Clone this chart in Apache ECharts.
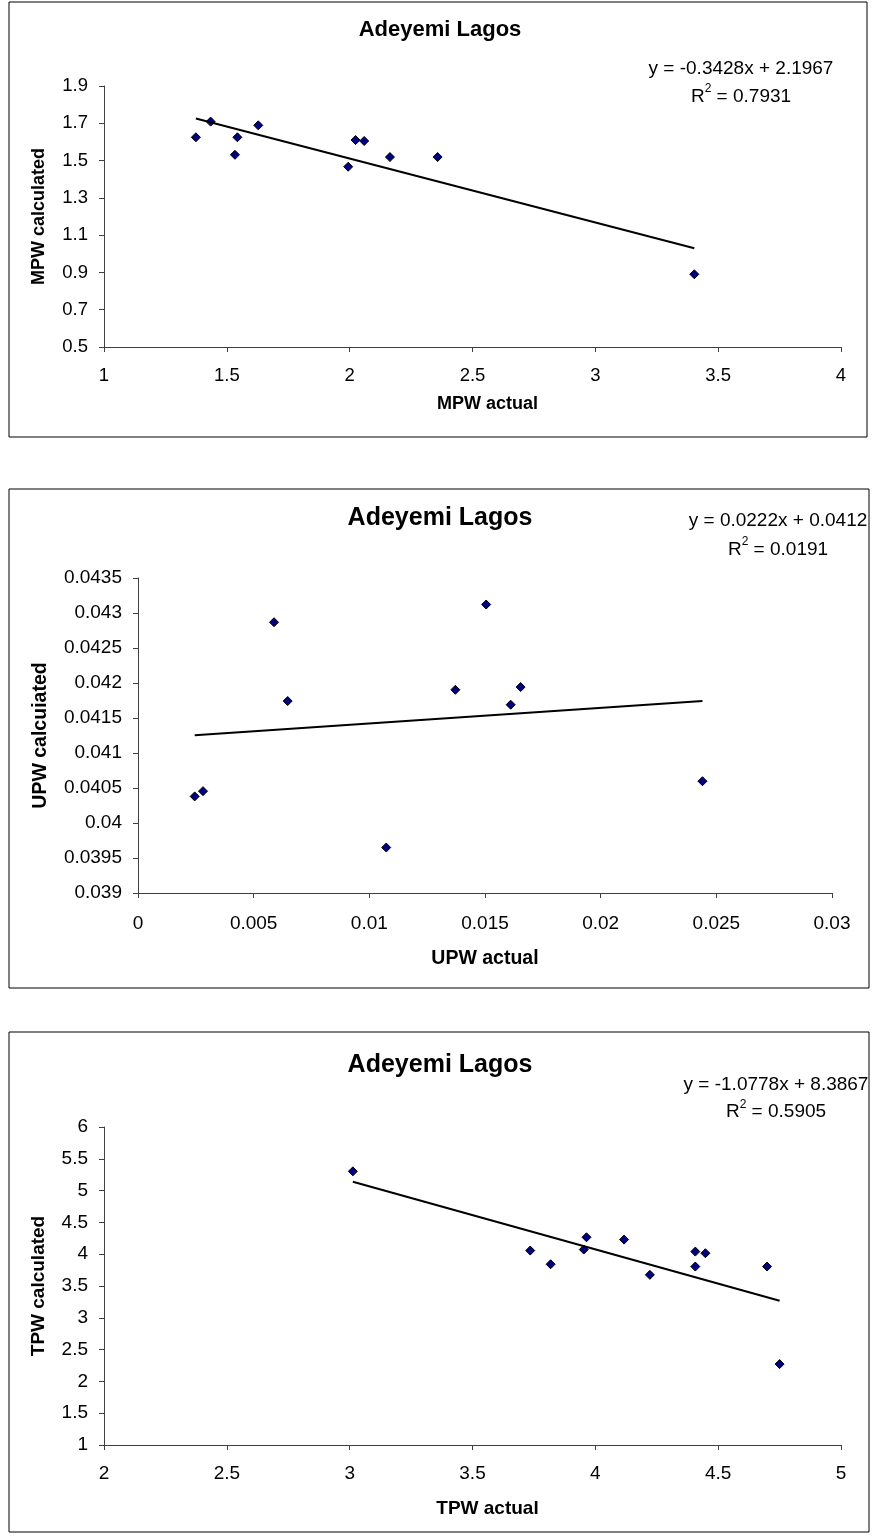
<!DOCTYPE html>
<html>
<head>
<meta charset="utf-8">
<title>Adeyemi Lagos</title>
<script src="https://cdn.jsdelivr.net/npm/echarts@6/dist/echarts.min.js"></script>
<style>
  html, body { margin: 0; padding: 0; background: #fff; }
  #chart { width: 873px; height: 1536px; }
</style>
</head>
<body>
<div id="chart"></div>
<script>
// MPW
const mpwActual = [1.374, 1.434, 1.533, 1.543, 1.628, 1.994, 2.024, 2.059, 2.164, 2.358, 3.403];
const mpwCalc = [1.625, 1.709, 1.531, 1.625, 1.689, 1.467, 1.610, 1.605, 1.519, 1.519, 0.890];
const mpwXTicks = [1, 1.5, 2, 2.5, 3, 3.5, 4];
const mpwYTicks = [0.5, 0.7, 0.9, 1.1, 1.3, 1.5, 1.7, 1.9];
const mpwTrend = [-0.3428, 2.1967]; // slope, intercept
const mpwEq = ['y = -0.3428x + 2.1967', '0.7931'];

// UPW
const upwActual = [0.00245, 0.00281, 0.00588, 0.00647, 0.01073, 0.01372, 0.01505, 0.01611, 0.01654, 0.0244];
const upwCalc = [0.04038, 0.040455, 0.042868, 0.041742, 0.03965, 0.041903, 0.043121, 0.04169, 0.041942, 0.040597];
const upwXTicks = [0, 0.005, 0.01, 0.015, 0.02, 0.025, 0.03];
const upwYTicks = [0.039, 0.0395, 0.04, 0.0405, 0.041, 0.0415, 0.042, 0.0425, 0.043, 0.0435];
const upwTrend = [0.0222, 0.0412];
const upwEq = ['y = 0.0222x + 0.0412', '0.0191'];

// TPW
const tpwActual = [3.013, 3.735, 3.818, 3.953, 3.964, 4.117, 4.222, 4.407, 4.407, 4.448, 4.699, 4.750];
const tpwCalc = [5.303, 4.057, 3.842, 4.073, 4.266, 4.230, 3.675, 4.041, 3.806, 4.015, 3.806, 2.272];
const tpwXTicks = [2, 2.5, 3, 3.5, 4, 4.5, 5];
const tpwYTicks = [1, 1.5, 2, 2.5, 3, 3.5, 4, 4.5, 5, 5.5, 6];
const tpwTrend = [-1.0778, 8.3867];
const tpwEq = ['y = -1.0778x + 8.3867', '0.5905'];

const chartTitle = 'Adeyemi Lagos';
const FONT = '"Liberation Sans", Arial, sans-serif';

const panels = [
  {
    xs: mpwActual, ys: mpwCalc, xTicks: mpwXTicks, yTicks: mpwYTicks, trend: mpwTrend, eq: mpwEq,
    xName: 'MPW actual', yName: 'MPW calculated',
    grid: { left: 104, top: 86, width: 737, height: 261 },
    frame: { x: 9, y: 2, width: 858, height: 435 },
    title: { x: 440, y: 30, size: 22 },
    eqPos: { x: 741, y: 83, lh: 28 },
    font: 18.5, nameFont: 18, xGap: 48, yGap: 56, xShift: 30, xMargin: 19
  },
  {
    xs: upwActual, ys: upwCalc, xTicks: upwXTicks, yTicks: upwYTicks, trend: upwTrend, eq: upwEq,
    xName: 'UPW actual', yName: 'UPW calcuiated',
    grid: { left: 138, top: 578, width: 694, height: 315 },
    frame: { x: 9, y: 489, width: 860, height: 499 },
    title: { x: 440, y: 518, size: 25 },
    eqPos: { x: 778, y: 535.5, lh: 29 },
    font: 19, nameFont: 19.5, xGap: 56, yGap: 87, xShift: 0, xMargin: 21
  },
  {
    xs: tpwActual, ys: tpwCalc, xTicks: tpwXTicks, yTicks: tpwYTicks, trend: tpwTrend, eq: tpwEq,
    xName: 'TPW actual', yName: 'TPW calculated',
    grid: { left: 104, top: 1127, width: 737, height: 318 },
    frame: { x: 9, y: 1032, width: 860, height: 500 },
    title: { x: 440, y: 1065, size: 25 },
    eqPos: { x: 776, y: 1098.5, lh: 27 },
    font: 19, nameFont: 19, xGap: 54, yGap: 56, xShift: 30, xMargin: 19
  }
];

const fmt = v => String(+(+v).toFixed(6));

const grid = [], xAxis = [], yAxis = [], series = [], graphic = [];

panels.forEach((p, i) => {
  grid.push(p.grid);
  const axisCommon = {
    type: 'value',
    gridIndex: i,
    nameLocation: 'middle',
    nameTextStyle: { fontFamily: FONT, fontWeight: 'bold', fontSize: p.nameFont, color: '#000' },
    axisLine: { show: true, onZero: false, lineStyle: { color: '#404040', width: 1 } },
    axisTick: { show: true, inside: false, length: 5, lineStyle: { color: '#404040' } },
    splitLine: { show: false },
    axisLabel: { fontFamily: FONT, fontSize: p.font, color: '#000', formatter: fmt }
  };
  xAxis.push(Object.assign({}, axisCommon, {
    min: p.xTicks[0], max: p.xTicks[p.xTicks.length - 1],
    name: p.xName, nameGap: p.xGap,
    nameTextStyle: Object.assign({}, axisCommon.nameTextStyle, { padding: [0, 0, 0, p.xShift] }),
    axisTick: Object.assign({}, axisCommon.axisTick, { customValues: p.xTicks }),
    axisLabel: Object.assign({}, axisCommon.axisLabel, { customValues: p.xTicks, margin: p.xMargin })
  }));
  yAxis.push(Object.assign({}, axisCommon, {
    min: p.yTicks[0], max: p.yTicks[p.yTicks.length - 1],
    name: p.yName, nameGap: p.yGap, nameRotate: 90,
    axisTick: Object.assign({}, axisCommon.axisTick, { customValues: p.yTicks }),
    axisLabel: Object.assign({}, axisCommon.axisLabel, { customValues: p.yTicks, margin: 16 })
  }));

  // linear trendline over the data range
  const x0 = Math.min(...p.xs), x1 = Math.max(...p.xs);
  series.push({
    type: 'line', xAxisIndex: i, yAxisIndex: i,
    data: [[x0, p.trend[0] * x0 + p.trend[1]], [x1, p.trend[0] * x1 + p.trend[1]]],
    showSymbol: false, silent: true,
    lineStyle: { color: '#000', width: 2 }
  });
  series.push({
    type: 'scatter', xAxisIndex: i, yAxisIndex: i,
    data: p.xs.map((x, k) => [x, p.ys[k]]),
    symbol: 'diamond', symbolSize: 9,
    itemStyle: { color: '#000080', borderColor: '#000', borderWidth: 1, opacity: 1 }
  });

  graphic.push({
    type: 'rect', shape: p.frame, z: -1,
    style: { fill: null, stroke: '#000', lineWidth: 1 }
  });
  graphic.push({
    type: 'text', x: p.title.x, y: p.title.y,
    style: {
      text: chartTitle, fontFamily: FONT, fontWeight: 'bold', fontSize: p.title.size,
      fill: '#000', align: 'center', verticalAlign: 'middle'
    }
  });
  graphic.push({
    type: 'text', x: p.eqPos.x, y: p.eqPos.y,
    style: {
      text: p.eq[0] + '\n' + 'R{s|2} = ' + p.eq[1],
      fontFamily: FONT, fontSize: 19, lineHeight: p.eqPos.lh, fill: '#000',
      align: 'center', verticalAlign: 'middle',
      rich: { s: { fontFamily: FONT, fontSize: 12, verticalAlign: 'top', lineHeight: p.eqPos.lh, fill: '#000' } }
    }
  });
});

const chart = echarts.init(document.getElementById('chart'), null, { renderer: 'canvas' });
chart.setOption({
  animation: false,
  backgroundColor: '#fff',
  grid, xAxis, yAxis, series, graphic
});
window.addEventListener('resize', chart.resize);
</script>
</body>
</html>
